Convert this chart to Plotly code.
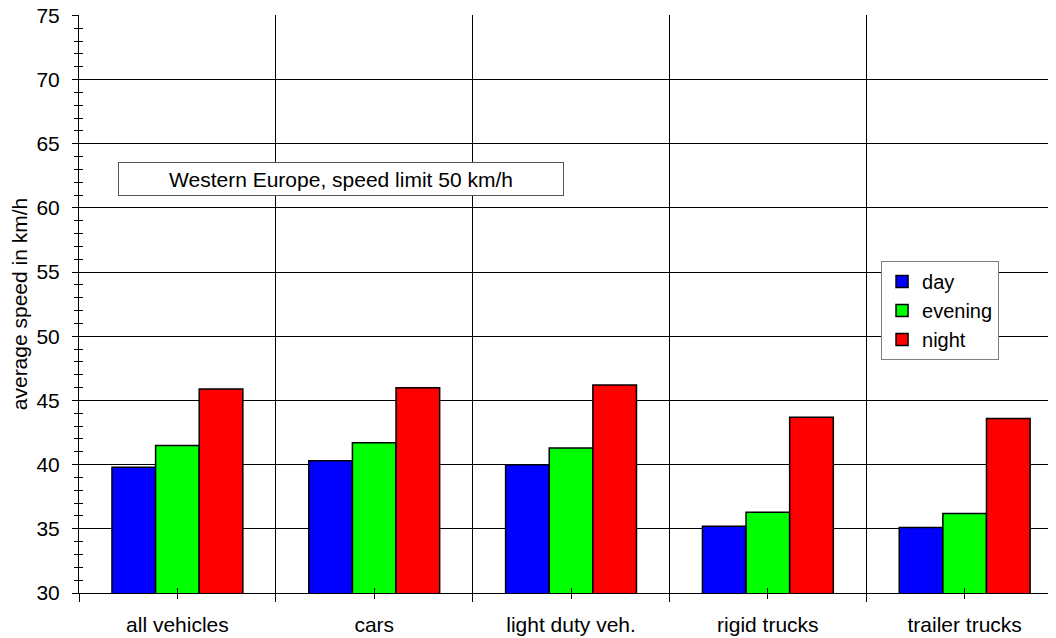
import plotly.graph_objects as go

categories = ["all vehicles", "cars", "light duty veh.", "rigid trucks", "trailer trucks"]
day = [39.8, 40.3, 40.0, 35.2, 35.1]
evening = [41.5, 41.7, 41.3, 36.3, 36.2]
night = [45.9, 46.0, 46.2, 43.7, 43.6]
series_names = ["day", "evening", "night"]
series_colors = ["#0000FF", "#00FF00", "#FF0000"]

FONT = "Liberation Sans, Arial, sans-serif"
FS = 21
XR = [-0.5, 4.464]
YR = [30, 75.03]

fig = go.Figure()
for name, vals, col in zip(series_names, [day, evening, night], series_colors):
    fig.add_trace(go.Bar(
        x=categories, y=vals, name=name,
        marker=dict(color=col, line=dict(color="black", width=1.5)),
    ))

# helper traces for overlay axes (cross ticks)
fig.add_trace(go.Scatter(x=categories, y=[None] * len(categories), xaxis="x2", yaxis="y2",
                         showlegend=False, hoverinfo="skip", mode="markers"))
fig.add_trace(go.Scatter(x=categories, y=[None] * len(categories), xaxis="x3", yaxis="y2",
                         showlegend=False, hoverinfo="skip", mode="markers"))

fig.update_layout(
    width=1048, height=630,
    margin=dict(l=71, r=0, t=7, b=45, autoexpand=False),
    paper_bgcolor="white", plot_bgcolor="white",
    font=dict(family=FONT, size=FS, color="black"),
    barmode="group", bargap=0.335, bargroupgap=0,
    showlegend=True,
    legend=dict(
        x=0.9417, y=0.5744, xanchor="right", yanchor="top",
        bgcolor="white", bordercolor="#808080", borderwidth=1,
        font=dict(family=FONT, size=FS - 1, color="black"),
        tracegroupgap=0,
    ),
    xaxis=dict(
        type="category", categoryorder="array", categoryarray=categories,
        range=XR, tickson="boundaries", ticks="outside", ticklen=8, tickcolor="black",
        showgrid=True, gridcolor="black", gridwidth=1,
        showline=True, linecolor="black", linewidth=1,
        tickfont=dict(family=FONT, size=FS, color="black"),
        ticklabelstandoff=13, automargin=False,
        zeroline=False, fixedrange=True,
    ),
    xaxis2=dict(
        type="category", categoryorder="array", categoryarray=categories,
        range=XR, overlaying="x", anchor="y", side="bottom",
        ticks="inside", ticklen=5, tickcolor="black", showticklabels=False,
        showgrid=False, showline=False, zeroline=False, automargin=False,
    ),
    xaxis3=dict(
        type="category", categoryorder="array", categoryarray=categories,
        range=XR, overlaying="x", anchor="y", side="bottom",
        ticks="outside", ticklen=5, tickcolor="black", showticklabels=False,
        showgrid=False, showline=False, zeroline=False, automargin=False,
    ),
    yaxis=dict(
        range=YR, dtick=5, tick0=30, ticks="outside", ticklen=6, tickcolor="black",
        showgrid=True, gridcolor="black", gridwidth=1,
        showline=True, linecolor="black", linewidth=1,
        minor=dict(dtick=1, ticks="outside", ticklen=4, tickcolor="black", showgrid=False),
        tickfont=dict(family=FONT, size=FS, color="black"),
        ticklabelstandoff=8, automargin=False, ticklabeloverflow="allow",
        title=dict(text="average speed in km/h", font=dict(family=FONT, size=FS, color="black"),
                   standoff=7),
        zeroline=False, fixedrange=True,
    ),
    yaxis2=dict(
        range=YR, dtick=1, tick0=30, overlaying="y", anchor="x", side="left",
        ticks="inside", ticklen=4, tickcolor="black", showticklabels=False,
        showgrid=False, showline=False, zeroline=False, automargin=False,
    ),
    annotations=[dict(
        text="Western Europe, speed limit 50 km/h",
        xref="paper", yref="paper", x=0.2685, y=0.7163,
        xanchor="center", yanchor="middle", showarrow=False,
        font=dict(family=FONT, size=FS, color="black"),
        bgcolor="white", bordercolor="#555555", borderwidth=1,
        width=442, height=30, borderpad=1,
    )],
)

fig.write_html("out.html")
